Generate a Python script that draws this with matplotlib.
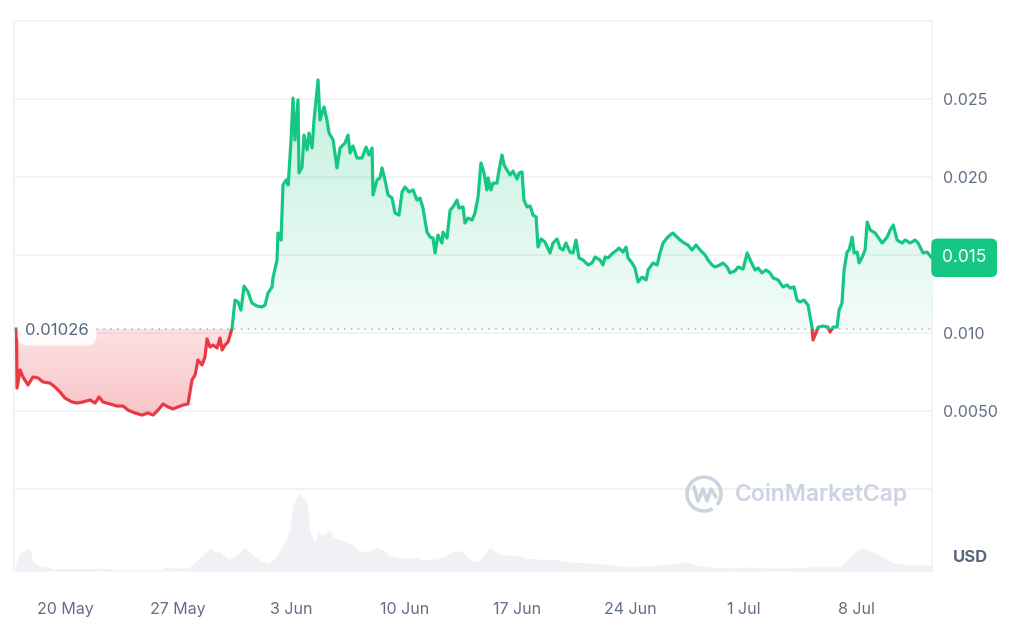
import numpy as np
import matplotlib
matplotlib.use("Agg")
import matplotlib.pyplot as plt
import matplotlib.dates as mdates
from matplotlib.patches import Rectangle, Arc
from matplotlib.path import Path
from matplotlib.lines import Line2D
from matplotlib.transforms import IdentityTransform, blended_transform_factory
from datetime import datetime, timedelta

# Price series (days since 17 May, price in USD)
price_days = [0.0, 0.03, 0.22, 0.40, 0.71, 1.02, 1.33, 1.64, 2.07, 2.38, 2.69, 3.00, 3.43, 3.74, 4.12,
              4.55, 4.86, 5.11, 5.35, 5.79, 6.22, 6.59, 6.90, 7.33, 7.77, 8.14, 8.45, 8.76, 9.07, 9.38,
              9.68, 9.99, 10.30, 10.61, 10.86, 11.05, 11.23, 11.48, 11.66, 11.79, 11.97, 12.16, 12.41,
              12.59, 12.72, 12.90, 13.09, 13.34, 13.52, 13.71, 13.89, 14.08, 14.33, 14.57, 14.88, 15.19,
              15.38, 15.56, 15.81, 15.87, 16.12, 16.18, 16.37, 16.49, 16.68, 16.81, 16.99, 17.11, 17.23,
              17.42, 17.48, 17.67, 17.79, 17.98, 18.10, 18.29, 18.41, 18.66, 18.78, 19.03, 19.21, 19.34,
              19.59, 19.83, 20.02, 20.33, 20.51, 20.64, 20.82, 21.07, 21.38, 21.63, 21.81, 22.00, 22.06,
              22.31, 22.49, 22.62, 22.80, 22.99, 23.24, 23.42, 23.67, 23.86, 24.04, 24.29, 24.54, 24.78,
              24.97, 25.15, 25.40, 25.59, 25.77, 25.90, 26.08, 26.33, 26.39, 26.64, 26.83, 27.01, 27.26,
              27.38, 27.63, 27.75, 27.94, 28.19, 28.37, 28.56, 28.74, 28.93, 29.11, 29.18, 29.36, 29.49,
              29.73, 29.86, 30.04, 30.17, 30.35, 30.54, 30.72, 30.97, 31.10, 31.28, 31.40, 31.59, 31.78,
              31.96, 32.15, 32.27, 32.46, 32.70, 33.01, 33.20, 33.45, 33.63, 33.82, 34.00, 34.25, 34.44,
              34.62, 34.81, 35.06, 35.37, 35.61, 35.80, 36.11, 36.29, 36.42, 36.60, 36.91, 37.16, 37.28,
              37.53, 37.72, 37.84, 38.09, 38.27, 38.46, 38.71, 38.96, 39.08, 39.39, 39.64, 39.82, 40.01,
              40.25, 40.44, 40.62, 40.87, 41.06, 41.31, 41.55, 41.80, 42.05, 42.30, 42.61, 42.79, 43.04,
              43.22, 43.53, 43.72, 43.97, 44.15, 44.46, 44.65, 44.96, 45.21, 45.46, 45.70, 45.89, 46.13,
              46.38, 46.63, 46.82, 47.13, 47.43, 47.68, 47.87, 48.11, 48.30, 48.49, 48.73, 48.98, 49.23,
              49.29, 49.47, 49.60, 49.91, 50.22, 50.34, 50.53, 50.77, 50.90, 51.08, 51.21, 51.39, 51.52,
              51.71, 51.83, 52.02, 52.14, 52.33, 52.51, 52.64, 52.83, 53.13, 53.57, 53.88, 54.06, 54.25,
              54.49, 54.80, 54.99, 55.30, 55.61, 55.79, 56.10, 56.35, 56.59]
price_usd = [0.01026, 0.00647, 0.00763, 0.00718, 0.00667, 0.00718, 0.00712, 0.00686, 0.00679, 0.00654,
             0.00622, 0.00583, 0.00558, 0.00551, 0.00558, 0.00571, 0.00551, 0.00590, 0.00558, 0.00545,
             0.00532, 0.00532, 0.00506, 0.00487, 0.00474, 0.00487, 0.00474, 0.00506, 0.00545, 0.00526,
             0.00513, 0.00526, 0.00538, 0.00545, 0.00699, 0.00731, 0.00827, 0.00795, 0.00846, 0.00962,
             0.00910, 0.00923, 0.00904, 0.00968, 0.00891, 0.00923, 0.00942, 0.01032, 0.01211, 0.01199,
             0.01147, 0.01301, 0.01263, 0.01192, 0.01173, 0.01167, 0.01179, 0.01256, 0.01295, 0.01353,
             0.01468, 0.01641, 0.01596, 0.01949, 0.01981, 0.01949, 0.02237, 0.02506, 0.02237, 0.02494,
             0.02026, 0.02064, 0.02269, 0.02173, 0.02282, 0.02186, 0.02365, 0.02622, 0.02365, 0.02449,
             0.02365, 0.02282, 0.02237, 0.02058, 0.02186, 0.02218, 0.02269, 0.02154, 0.02199, 0.02122,
             0.02122, 0.02192, 0.02141, 0.02186, 0.01885, 0.01981, 0.01994, 0.02058, 0.01981, 0.01885,
             0.01865, 0.01769, 0.01756, 0.01904, 0.01936, 0.01904, 0.01917, 0.01852, 0.01865, 0.01801,
             0.01647, 0.01615, 0.01609, 0.01513, 0.01628, 0.01577, 0.01647, 0.01609, 0.01788, 0.01808,
             0.01852, 0.01801, 0.01808, 0.01705, 0.01737, 0.01724, 0.01769, 0.01872, 0.02090, 0.02026,
             0.01917, 0.01994, 0.01917, 0.01961, 0.01961, 0.02045, 0.02141, 0.02077, 0.02045, 0.02013,
             0.02038, 0.01987, 0.02026, 0.02032, 0.01852, 0.01808, 0.01814, 0.01756, 0.01744, 0.01551,
             0.01603, 0.01583, 0.01513, 0.01577, 0.01603, 0.01545, 0.01532, 0.01577, 0.01519, 0.01513,
             0.01596, 0.01481, 0.01468, 0.01436, 0.01449, 0.01487, 0.01468, 0.01436, 0.01487, 0.01481,
             0.01513, 0.01532, 0.01545, 0.01519, 0.01551, 0.01481, 0.01449, 0.01417, 0.01327, 0.01359,
             0.01340, 0.01404, 0.01449, 0.01436, 0.01513, 0.01577, 0.01609, 0.01628, 0.01641, 0.01615,
             0.01596, 0.01577, 0.01564, 0.01532, 0.01564, 0.01532, 0.01500, 0.01468, 0.01436, 0.01423,
             0.01436, 0.01449, 0.01423, 0.01385, 0.01398, 0.01423, 0.01410, 0.01513, 0.01455, 0.01404,
             0.01417, 0.01385, 0.01404, 0.01385, 0.01353, 0.01340, 0.01295, 0.01308, 0.01288, 0.01295,
             0.01211, 0.01199, 0.01211, 0.01179, 0.01032, 0.00955, 0.01000, 0.01038, 0.01045, 0.01038,
             0.01006, 0.01038, 0.01038, 0.01147, 0.01192, 0.01404, 0.01519, 0.01532, 0.01615, 0.01513,
             0.01519, 0.01449, 0.01487, 0.01532, 0.01711, 0.01660, 0.01641, 0.01577, 0.01615, 0.01660,
             0.01692, 0.01596, 0.01577, 0.01596, 0.01577, 0.01596, 0.01577, 0.01513, 0.01519, 0.01487]

# Trading volume (days since 17 May, millions USD, approximate)
volume_days = [-0.10, 0.03, 0.22, 0.53, 0.71, 0.90, 0.96, 1.14, 1.45, 1.89, 2.26, 4.12, 5.17, 6.22, 8.88,
               9.19, 9.62, 10.61, 10.86, 11.35, 11.79, 11.97, 12.28, 12.59, 13.09, 13.52, 13.83, 14.14,
               14.45, 14.88, 15.19, 15.56, 15.99, 16.43, 16.74, 16.93, 17.11, 17.36, 17.48, 17.67, 17.92,
               18.04, 18.16, 18.47, 18.66, 18.97, 19.40, 19.59, 19.83, 20.45, 20.82, 21.13, 21.69, 22.00,
               22.31, 22.68, 22.99, 23.73, 24.78, 25.15, 26.02, 26.39, 26.83, 27.13, 27.57, 27.88, 28.25,
               28.68, 29.12, 29.30, 29.73, 30.11, 30.72, 31.10, 31.47, 32.27, 33.51, 34.31, 35.55, 36.97,
               37.97, 39.20, 40.44, 41.24, 42.05, 42.85, 44.09, 45.33, 46.50, 47.74, 48.98, 50.15, 50.96,
               51.58, 52.01, 52.38, 53.00, 53.62, 54.24, 55.04, 55.85, 56.65]
volume_musd = [1.0, 2.2, 3.6, 4.2, 4.6, 3.8, 2.2, 1.6, 1.0, 0.8, 0.4, 0.4, 0.6, 0.2, 0.2,
               0.8, 0.6, 0.6, 1.2, 2.8, 3.8, 4.6, 3.8, 3.8, 2.4, 3.0, 3.8, 4.8,
               3.8, 2.6, 1.8, 1.6, 2.6, 4.8, 6.8, 8.6, 13.2, 14.8, 15.6, 14.6, 14.2,
               11.6, 7.8, 5.8, 7.6, 7.2, 8.2, 6.8, 6.4, 5.8, 5.2, 4.2, 3.8, 4.2,
               4.8, 4.2, 3.2, 2.6, 2.6, 2.2, 2.4, 2.8, 3.6, 4.0, 4.0, 2.8, 1.8,
               2.2, 4.2, 4.6, 3.6, 3.2, 3.2, 3.0, 2.6, 2.4, 2.2, 1.8, 1.6, 1.2,
               0.8, 1.0, 1.4, 1.8, 1.2, 0.8, 0.6, 0.8, 0.6, 0.6, 0.8, 0.8, 0.8,
               2.8, 4.2, 4.6, 3.8, 2.8, 1.6, 1.2, 1.2, 1.0]

start_price = 0.01026
y_ticks = [0.0, 0.005, 0.010, 0.015, 0.020, 0.025, 0.030]
# the 0.015 label sits under the last-price tag, so it is left blank
y_tick_labels = ["", "0.0050", "0.010", "", "0.020", "0.025", ""]
x_tick_labels = ["20 May", "27 May", "3 Jun", "10 Jun", "17 Jun", "24 Jun", "1 Jul", "8 Jul"]
x_tick_days = [3, 10, 17, 24, 31, 38, 45, 52]

# Colours
green = "#16C784"
red = "#EA3943"
grid_col = "#EFF2F5"
text_col = "#616E85"

start = datetime(2024, 5, 17)
to_num = lambda days: mdates.date2num([start + timedelta(days=d) for d in days])

x = to_num(price_days)
y = np.array(price_usd)
xv = to_num(volume_days)
x_min, x_max = to_num([-0.155, 56.65])

plt.rcParams["font.family"] = ["Inter", "DejaVu Sans"]

fig = plt.figure(figsize=(10.24, 6.33), dpi=100)
ax = fig.add_axes([14 / 1024, 1 - 571 / 633, 918 / 1024, 551 / 633])

# Volume on a hidden twin axis at the bottom
axv = ax.twinx()
axv.fill_between(xv, volume_musd, 0, color="#EFF1F5", lw=0, zorder=1)
axv.set_ylim(0, 15.6 * 551 / 78)
axv.set_yticks([])
for s in axv.spines.values():
    s.set_visible(False)

y_lo, y_hi = -0.005256, 0.030064


def gradient_fill(where_mask, color, a_near, a_far, y_far):
    # fill between line and the start price with a vertical alpha gradient
    poly = ax.fill_between(x, y, start_price, where=where_mask, interpolate=True,
                           facecolor="none", edgecolor="none")
    clip = Path.make_compound_path(*poly.get_paths())
    rgb = matplotlib.colors.to_rgb(color)
    img = np.zeros((256, 1, 4))
    img[:, 0, :3] = rgb
    img[:, 0, 3] = np.linspace(a_near, a_far, 256)
    im = ax.imshow(img, extent=[x_min, x_max, start_price, y_far], origin="lower",
                   aspect="auto", zorder=2, interpolation="bilinear")
    im.set_clip_path(clip, transform=ax.transData)


gradient_fill(y >= start_price, green, 0.05, 0.27, 0.0265)
gradient_fill(y <= start_price, red, 0.15, 0.30, 0.0046)

# Price line, green above the start price and red below
big = 1.0
above = Rectangle((x_min, start_price), x_max - x_min, big, transform=ax.transData)
below = Rectangle((x_min, start_price - big), x_max - x_min, big, transform=ax.transData)
line_g, = ax.plot(x, y, color=green, lw=2.3, zorder=4, solid_joinstyle="round")
line_g.set_clip_path(above)
line_r, = ax.plot(x, y, color=red, lw=2.3, zorder=4, solid_joinstyle="round")
line_r.set_clip_path(below)

# Dotted start price line
ax.axhline(start_price, color="#A6B0C3", lw=1.1, ls=(0, (1, 3.5)), zorder=3)

ax.set_xlim(x_min, x_max)
ax.set_ylim(y_lo, y_hi)

# Axes styling
ax.set_yticks(y_ticks)
ax.set_yticklabels(y_tick_labels)
ax.yaxis.tick_right()
ax.tick_params(axis="y", length=0, pad=8, labelsize=11.5, labelcolor=text_col)
ax.set_xticks(to_num(x_tick_days))
ax.set_xticklabels(x_tick_labels)
ax.tick_params(axis="x", length=0, pad=22, labelsize=11.5, labelcolor=text_col)
ax.grid(axis="y", color=grid_col, lw=1.2, zorder=0)
ax.set_axisbelow(True)
for side in ["top", "bottom"]:
    ax.spines[side].set_visible(False)
for side in ["left", "right"]:
    ax.spines[side].set_color(grid_col)
    ax.spines[side].set_linewidth(1.2)

# Start price label at the left
ax.text(0.012, start_price - 0.00010, "0.01026", transform=blended_transform_factory(ax.transAxes, ax.transData),
        ha="left", va="center", fontsize=12, color="#58667E", zorder=6,
        bbox=dict(boxstyle="round,pad=0.45,rounding_size=0.6", fc="white", ec="none", alpha=0.9))

# Last price tag on the right
ax.text(1.0 + 10 / 918, y[-1] - 0.00005, "0.015", transform=blended_transform_factory(ax.transAxes, ax.transData),
        ha="left", va="center", fontsize=12.5, color="white", zorder=6, clip_on=False,
        bbox=dict(boxstyle="round,pad=0.62,rounding_size=0.35", fc=green, ec="none"))

fig.text(970 / 1024, 1 - 557 / 633, "USD", ha="center", va="center", fontsize=12,
         fontweight="bold", color="#58667E")

# Watermark
wm = "#CDD4E1"
fig.text(735 / 1024, 1 - 495 / 633, "CoinMarketCap", ha="left", va="center", fontsize=16.5,
         fontweight="semibold", color=wm)
fig.add_artist(Arc((704, 633 - 494), 34, 34, theta1=-40, theta2=300, transform=IdentityTransform(),
                   color=wm, lw=2.6))
fig.add_artist(Line2D([694, 698, 703, 707, 711, 716], [633 - 487, 633 - 501, 633 - 489, 633 - 501, 633 - 489, 633 - 497],
                      transform=IdentityTransform(), color=wm, lw=2.6, solid_joinstyle="round",
                      solid_capstyle="round"))

fig.savefig("out.png", dpi=100, facecolor="white")
